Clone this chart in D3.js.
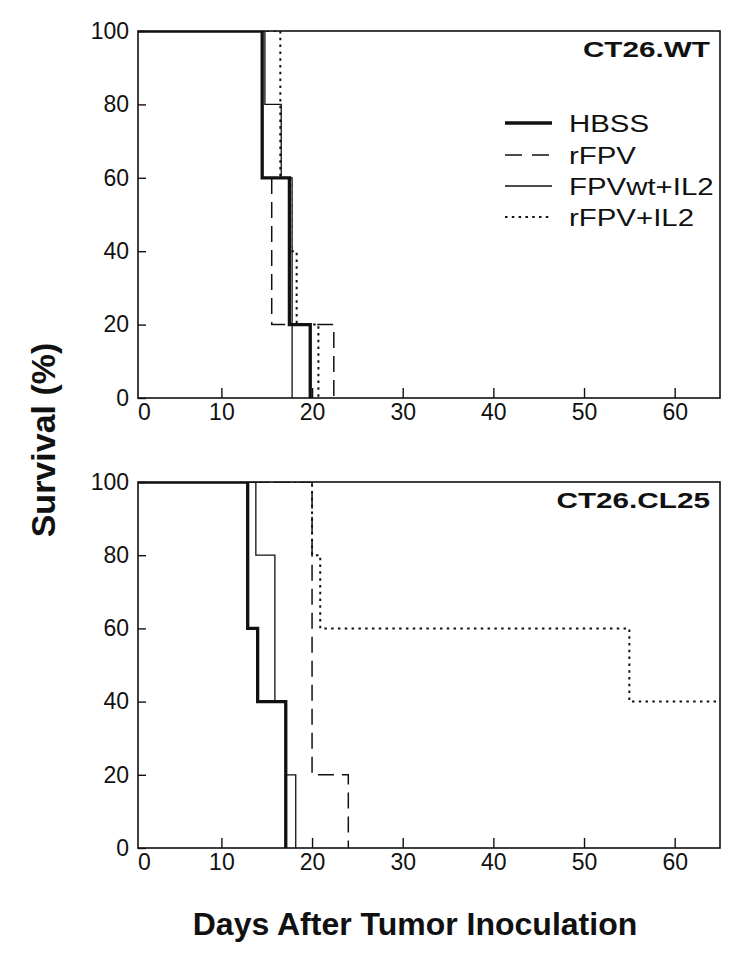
<!DOCTYPE html>
<html>
<head>
<meta charset="utf-8">
<title>Survival after tumor inoculation</title>
<script src="https://cdnjs.cloudflare.com/ajax/libs/d3/7.8.5/d3.min.js"></script>
<style>
	body { margin:0; background:#fff; }
	svg text { font-family: "Liberation Sans", Arial, Helvetica, sans-serif; fill:#111; }
</style>
</head>
<body>
<div id="chart"></div>
<script>
// legend order
var groups = ["HBSS", "rFPV", "FPVwt+IL2", "rFPV+IL2"];
var panelNames = ["CT26.WT", "CT26.CL25"];

// CT26.WT : day of each step and % surviving after it
var wtHbssDays    = [0, 14.5, 17.5, 19.8];
var wtHbssSurv    = [100, 60, 20, 0];
var wtRfpvDays    = [0, 14.5, 15.55, 22.4];
var wtRfpvSurv    = [100, 60, 20, 0];
var wtFpvIl2Days  = [0, 14.8, 16.6, 17.8];
var wtFpvIl2Surv  = [100, 80, 60, 0];
var wtRfpvIl2Days = [0, 16.5, 17.6, 18.3, 20.7];
var wtRfpvIl2Surv = [100, 60, 40, 20, 0];

// CT26.CL25
var clHbssDays    = [0, 12.9, 14.0, 17.1];
var clHbssSurv    = [100, 60, 40, 0];
var clRfpvDays    = [0, 20.0, 24.0];
var clRfpvSurv    = [100, 20, 0];
var clFpvIl2Days  = [0, 13.8, 15.9, 17.1, 18.2];
var clFpvIl2Surv  = [100, 80, 40, 20, 0];
var clRfpvIl2Days = [0, 20.0, 20.9, 55.0, 65];
var clRfpvIl2Surv = [100, 80, 60, 40, 40];

var xTicks = [10, 20, 30, 40, 50, 60];
var yTicks = [0, 20, 40, 60, 80, 100];

function pairs(days, surv){
	return days.map(function(d, i){ return [d, surv[i]]; });
}

var panels = [
	{ name : panelNames[0], top : 31, bottom : 398, series : [
		pairs(wtHbssDays, wtHbssSurv), pairs(wtRfpvDays, wtRfpvSurv),
		pairs(wtFpvIl2Days, wtFpvIl2Surv), pairs(wtRfpvIl2Days, wtRfpvIl2Surv) ] },
	{ name : panelNames[1], top : 482, bottom : 848, series : [
		pairs(clHbssDays, clHbssSurv), pairs(clRfpvDays, clRfpvSurv),
		pairs(clFpvIl2Days, clFpvIl2Surv), pairs(clRfpvIl2Days, clRfpvIl2Surv) ] }
];

// line look per group (same order as groups)
var styles = [
	{ width : 3.3, dash : null,      legendDash : null },
	{ width : 1.5, dash : "16,8",    legendDash : "17,10" },
	{ width : 1.3, dash : null,      legendDash : null },
	{ width : 2,   dash : "2.5,4.3", legendDash : "2.5,4.3" }
];
var drawOrder = [3, 1, 2, 0];

var left = 138, right = 720;

var svg = d3.select("#chart").append("svg")
	.attr("width", 750)
	.attr("height", 953);

// x starts a touch after day 0 in the scanned figure
var x = d3.scaleLinear().domain([0.8, 65]).range([left, right]);

function stretch(sel, k){
	sel.each(function(){
		var len = this.getComputedTextLength();
		d3.select(this).attr("textLength", len*k).attr("lengthAdjust", "spacingAndGlyphs");
	});
}

panels.forEach(function(p, pi){
	var y = d3.scaleLinear().domain([0, 100]).range([p.bottom, p.top]);
	var g = svg.append("g");

	// clip so the 100% runs sit on the frame without thickening it
	g.append("clipPath").attr("id", "clip" + pi)
		.append("rect")
		.attr("x", left).attr("y", p.top)
		.attr("width", right - left).attr("height", p.bottom - p.top);

	var line = d3.line()
		.x(function(d){ return x(d[0]); })
		.y(function(d){ return y(d[1]); })
		.curve(d3.curveStepAfter);

	drawOrder.forEach(function(si){
		g.append("path")
			.attr("clip-path", "url(#clip" + pi + ")")
			.attr("d", line(p.series[si]))
			.attr("fill", "none")
			.attr("stroke", "#111")
			.attr("stroke-width", styles[si].width)
			.attr("stroke-dasharray", styles[si].dash);
	});

	// axes, ticks pointing inside
	var xAxis = d3.axisBottom(x)
		.tickValues([x.domain()[0]].concat(xTicks))
		.tickFormat(function(d){ return d < 1 ? "0" : d; })
		.tickSizeInner(-10).tickSizeOuter(0).tickPadding(6);
	var gx = g.append("g").attr("transform", "translate(0," + p.bottom + ")").call(xAxis);
	gx.select(".domain").remove();
	gx.selectAll("line").attr("stroke", "#111").attr("stroke-width", 1.4);
	gx.selectAll("text").attr("font-size", "23px").attr("fill", "#111");
	gx.selectAll(".tick").filter(function(d){ return d < 1; }).select("line").remove();
	gx.selectAll(".tick").filter(function(d){ return d < 1; }).select("text").attr("x", 6);

	var yAxis = d3.axisLeft(y)
		.tickValues(yTicks)
		.tickSizeInner(-8).tickSizeOuter(0).tickPadding(9);
	var gy = g.append("g").attr("transform", "translate(" + left + ",0)").call(yAxis);
	gy.select(".domain").remove();
	gy.selectAll("line").attr("stroke", "#111").attr("stroke-width", 1.4);
	gy.selectAll("text").attr("font-size", "23px").attr("fill", "#111");

	// frame
	g.append("rect")
		.attr("x", left).attr("y", p.top)
		.attr("width", right - left).attr("height", p.bottom - p.top)
		.attr("fill", "none").attr("stroke", "#111").attr("stroke-width", 1.6);

	// panel name, top right
	var lab = g.append("text")
		.attr("y", p.top + 26)
		.attr("font-size", "22px")
		.attr("font-weight", "bold")
		.text(p.name);
	stretch(lab, 1.35);
	lab.attr("x", right - 10 - (+lab.attr("textLength")));
});

// legend in the top panel
var legendY = [123, 155, 186, 217];
var leg = svg.append("g");
groups.forEach(function(name, i){
	leg.append("line")
		.attr("x1", 505).attr("x2", 552)
		.attr("y1", legendY[i]).attr("y2", legendY[i])
		.attr("stroke", "#111")
		.attr("stroke-width", styles[i].width)
		.attr("stroke-dasharray", styles[i].legendDash);
	var t = leg.append("text")
		.attr("x", 569).attr("y", legendY[i] + 9)
		.attr("font-size", "24.5px")
		.text(name);
	stretch(t, 1.2);
});

// axis titles
svg.append("text")
	.attr("transform", "translate(55,440) rotate(-90)")
	.attr("text-anchor", "middle")
	.attr("font-size", "34px")
	.attr("font-weight", "bold")
	.text("Survival (%)");

svg.append("text")
	.attr("x", 415).attr("y", 935)
	.attr("text-anchor", "middle")
	.attr("font-size", "32px")
	.attr("font-weight", "bold")
	.text("Days After Tumor Inoculation");
</script>
</body>
</html>
